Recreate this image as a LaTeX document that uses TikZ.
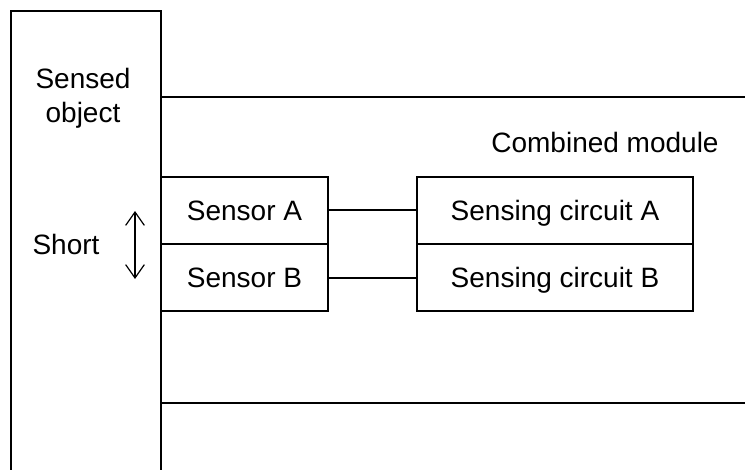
\documentclass[tikz,border=0pt]{standalone}
\usepackage{fontspec}
\setmainfont{Liberation Sans}
\usetikzlibrary{arrows.meta}
\begin{document}
\begin{tikzpicture}[x=0.75pt,y=-0.75pt,
  line width=1.5pt,
  txt/.style={font=\fontsize{21}{25.5}\selectfont, inner sep=0pt, align=center},
  unit/.style={draw, line width=1.5pt, rectangle, inner sep=0pt,
    minimum height=50.25pt, text height=15pt, text depth=0pt,
    font=\fontsize{21}{25.5}\selectfont},
  sensor/.style={unit, minimum width=125.25pt},
  circuit/.style={unit, minimum width=207pt},
  wire/.style={line width=1.5pt},
  shortarrow/.style={line width=0.9pt, {Straight Barb[length=10pt,width=14pt]}-{Straight Barb[length=10pt,width=14pt]}}]
  \useasboundingbox (0,0) rectangle (745,470);

  % sensed object: open at the bottom
  \coordinate (objBL) at (11,470);
  \coordinate (objTL) at (11,11);
  \coordinate (objTR) at (161,11);
  \coordinate (objBR) at (161,470);
  \draw (objBL) -- (objTL) -- (objTR) -- (objBR);
  \node[txt] (objlabel) at (83,98) {Sensed\\object};

  % combined module: top and bottom rails
  \coordinate (modTL) at (161,97);
  \coordinate (modTR) at (745,97);
  \coordinate (modBL) at (161,403);
  \coordinate (modBR) at (745,403);
  \draw (modTL) -- (modTR);
  \draw (modBL) -- (modBR);
  \node[txt] (modlabel) at (605,142) {Combined module};

  % sensors and sensing circuits
  \node[sensor] (sa) at (244.5,210.5) {Sensor A};
  \node[sensor] (sb) at (244.5,277.5) {Sensor B};
  \node[circuit] (ca) at (555,210.5) {Sensing circuit A};
  \node[circuit] (cb) at (555,277.5) {Sensing circuit B};
  \draw[wire] (sa.east) -- (ca.west);
  \draw[wire] (sb.east) -- (cb.west);

  % short between sensors
  \node[txt, text height=15pt, text depth=0pt] (short) at (66,244) {Short};
  \coordinate (arrTop) at (135,211);
  \coordinate (arrBot) at (135,279);
  \draw[shortarrow] (arrTop) -- (arrBot);
\end{tikzpicture}
\end{document}
